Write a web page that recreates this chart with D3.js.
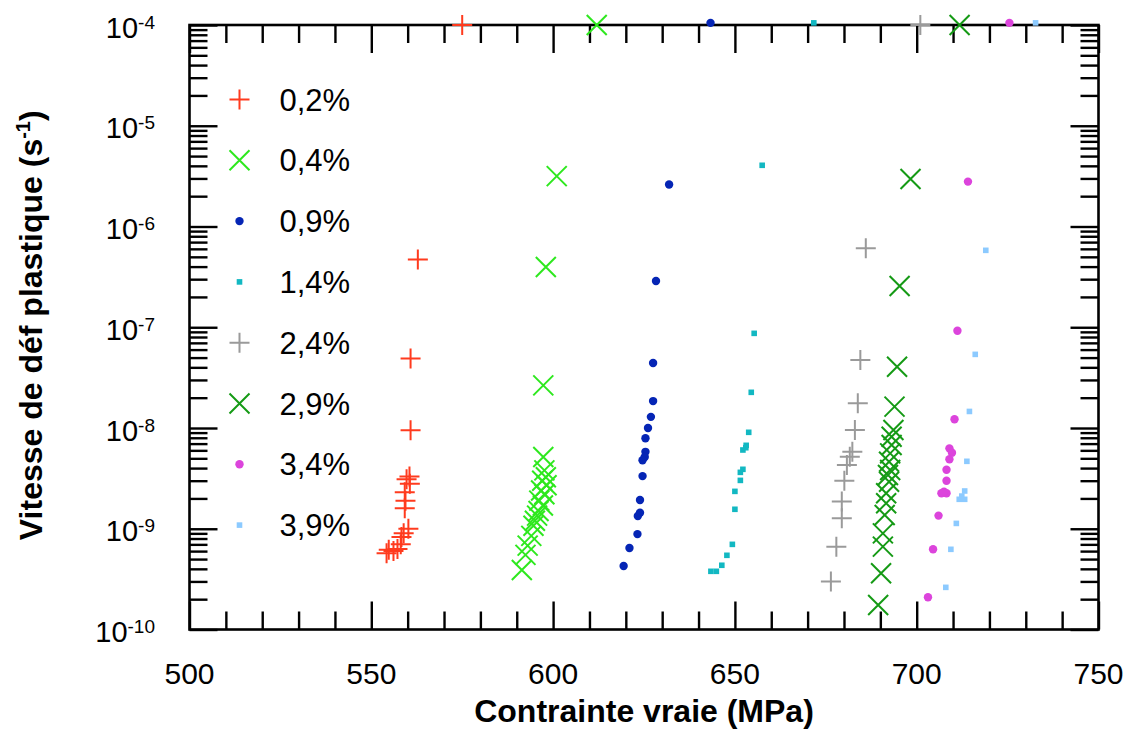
<!DOCTYPE html>
<html><head><meta charset="utf-8">
<script src="https://cdn.jsdelivr.net/npm/d3@7"></script>
<style>
body{margin:0;background:#fff}
svg{display:block}
text{font-family:"Liberation Sans",Arial,Helvetica,sans-serif;fill:#000}
</style>
</head><body>
<svg id="chart" width="1130" height="731"></svg>
<script>
// ---------- data ----------
const seriesNames = ["0,2%","0,4%","0,9%","1,4%","2,4%","2,9%","3,4%","3,9%"];
const xTickValues = [500,550,600,650,700,750];
const yTickExponents = [-4,-5,-6,-7,-8,-9,-10];

const s02 = [[575,1e-4],[562.8,4.7e-7],[560.8,4.9e-8],[560.8,9.5e-9],[560.5,3.3e-9],[559.7,3.1e-9],[560.6,2.8e-9],
  [559.2,2.3e-9],[559.4,1.9e-9],[559.2,1.6e-9],[560.2,1.0e-9],[558.9,9.0e-10],[558.3,8.3e-10],[558.1,7.0e-10],
  [557.2,6.3e-10],[556.1,6.0e-10],[554.8,6.2e-10],[554.2,5.7e-10]];
const s04 = [[612,1e-4],[601.0,3.16e-6],[598.0,3.97e-7],[597.3,2.65e-8],[597.3,5.15e-9],[597.6,3.8e-9],[598.0,3.24e-9],
  [597.0,3.0e-9],[598.2,2.7e-9],[596.7,2.4e-9],[597.6,2.2e-9],[596.2,1.9e-9],[597.2,1.7e-9],[596.0,1.5e-9],
  [595.6,1.35e-9],[595.0,1.2e-9],[594.6,1.07e-9],[594.0,8.5e-10],[593.0,6.8e-10],[592.4,5.5e-10],[591.4,3.9e-10]];
const s09 = [[643.3,1.05e-4],[631.9,2.61e-6],[628.3,2.88e-7],[627.5,4.42e-8],[627.5,1.85e-8],[626.9,1.29e-8],[626.1,1.0e-8],
  [625.4,7.9e-9],[625.4,5.8e-9],[625.2,5.15e-9],[624.6,4.78e-9],[624.6,3.33e-9],[623.9,1.93e-9],[623.9,1.44e-9],
  [623.3,1.34e-9],[623.2,8.85e-10],[621.0,6.43e-10],[619.4,4.27e-10]];
const s14 = [[671.7,1.05e-4],[657.5,4.05e-6],[655.3,8.7e-8],[654.5,2.26e-8],[653.8,9.06e-9],[653.1,6.73e-9],[653.0,6.37e-9],
  [652.2,6.05e-9],[652.2,3.89e-9],[651.5,3.63e-9],[651.5,3.02e-9],[650.0,2.35e-9],[650.0,1.56e-9],[649.3,7.0e-10],
  [647.8,5.45e-10],[646.4,4.34e-10],[644.9,3.78e-10],[643.4,3.78e-10]];
const s24 = [[701.0,1e-4],[686.0,6.07e-7],[684.5,4.73e-8],[683.8,1.76e-8],[683.0,9.55e-9],[682.3,5.82e-9],[681.6,5.19e-9],
  [680.8,4.29e-9],[680.1,3.0e-9],[679.4,1.86e-9],[679.4,1.27e-9],[677.9,6.64e-10],[676.4,2.99e-10]];
const s29 = [[711.8,1e-4],[698.3,2.96e-6],[695.3,2.57e-7],[694.6,4.06e-8],[693.9,1.63e-8],[693.6,9.55e-9],[693.1,8.2e-9],
  [693.1,6.78e-9],[692.7,5.6e-9],[692.4,4.63e-9],[692.7,3.83e-9],[692.1,3.41e-9],[692.4,2.93e-9],[691.6,2.25e-9],
  [691.6,1.79e-9],[691.2,1.37e-9],[690.7,9.0e-10],[690.7,6.64e-10],[690.2,3.61e-10],[689.4,1.75e-10]];
const s34 = [[725.5,1.05e-4],[714.1,2.79e-6],[711.2,9.24e-8],[710.4,1.22e-8],[709.0,6.28e-9],[709.7,5.69e-9],[709.0,4.89e-9],
  [708.2,3.85e-9],[708.2,3.0e-9],[708.2,2.25e-9],[706.8,2.25e-9],[707.5,2.33e-9],[706.0,1.35e-9],[704.5,6.25e-10],
  [703.1,2.09e-10]];
const s39 = [[732.7,1.05e-4],[719.0,5.8e-7],[716.1,5.38e-8],[714.5,1.46e-8],[713.8,4.67e-9],[713.2,2.37e-9],[712.4,2.11e-9],
  [711.7,1.96e-9],[713.2,1.96e-9],[710.9,1.13e-9],[709.4,6.25e-10],[708.0,2.62e-10]];

const seriesData = [s02,s04,s09,s14,s24,s29,s34,s39];
const seriesColors = ["#ff3b1e","#2ee81e","#0525b5","#12b8c2","#9a9a9a","#159a15","#dc44dc","#8ccaff"];
const seriesMarkers = ["plus","times","circle","square","plus","times","circle","square"];

// ---------- layout ----------
const svg = d3.select("#chart");
const L = 189.5, R = 1098.5, T = 25, B = 629.5;
const x = d3.scaleLinear().domain([500,750]).range([L,R]);
const y = d3.scaleLog().domain([1e-10,1e-4]).range([B,T]);

const FONT = 30;
const MAJ = 28, MIN = 18, TW = 2.4;

const xMinor = d3.range(500,751,10).filter(v => v % 50 !== 0);
const yMajor = yTickExponents.map(e => Math.pow(10,e));
const yMinor = [];
for (let e=-10; e<-4; e++) for (let m=2; m<=9; m++) yMinor.push(m*Math.pow(10,e));

function styleAxis(g){
  g.select(".domain").remove();
  g.selectAll(".tick line").attr("stroke","#000").attr("stroke-width",TW);
  g.selectAll(".tick text").remove();
}
svg.append("g").attr("transform",`translate(0,${B})`).call(d3.axisBottom(x).tickValues(xTickValues).tickSize(-MAJ)).call(styleAxis);
svg.append("g").attr("transform",`translate(0,${B})`).call(d3.axisBottom(x).tickValues(xMinor).tickSize(-MIN)).call(styleAxis);
svg.append("g").attr("transform",`translate(0,${T})`).call(d3.axisTop(x).tickValues(xTickValues).tickSize(-MAJ)).call(styleAxis);
svg.append("g").attr("transform",`translate(0,${T})`).call(d3.axisTop(x).tickValues(xMinor).tickSize(-MIN)).call(styleAxis);
svg.append("g").attr("transform",`translate(${L},0)`).call(d3.axisLeft(y).tickValues(yMajor).tickSize(-MAJ)).call(styleAxis);
svg.append("g").attr("transform",`translate(${L},0)`).call(d3.axisLeft(y).tickValues(yMinor).tickSize(-MIN)).call(styleAxis);
svg.append("g").attr("transform",`translate(${R},0)`).call(d3.axisRight(y).tickValues(yMajor).tickSize(-MAJ)).call(styleAxis);
svg.append("g").attr("transform",`translate(${R},0)`).call(d3.axisRight(y).tickValues(yMinor).tickSize(-MIN)).call(styleAxis);

svg.append("rect").attr("x",L).attr("y",T).attr("width",R-L).attr("height",B-T)
  .attr("fill","none").attr("stroke","#000").attr("stroke-width",2.6);

svg.append("g").selectAll("text").data(xTickValues).join("text")
  .attr("x",d=>x(d)).attr("y",B+54).attr("text-anchor","middle").attr("font-size",FONT).text(d=>d);

const yl = svg.append("g").selectAll("text").data(yTickExponents).join("text")
  .attr("x",155).attr("y",d=>y(Math.pow(10,d))+12.5).attr("text-anchor","end").attr("font-size",29);
yl.append("tspan").text("10");
yl.append("tspan").attr("font-size",19).attr("dy",-9).text(d=>String(d));

svg.append("text").attr("x",(L+R)/2).attr("y",722).attr("text-anchor","middle")
  .attr("font-size",32).attr("font-weight","bold").text("Contrainte vraie (MPa)");
const yt = svg.append("text").attr("transform",`translate(42,${(T+B)/2 - 2}) rotate(-90)`)
  .attr("text-anchor","middle").attr("font-size",32).attr("font-weight","bold");
yt.append("tspan").text("Vitesse de déf plastique (s");
yt.append("tspan").attr("font-size",20).attr("dy",-12).text("-1");
yt.append("tspan").attr("dy",12).text(")");

function drawMarker(sel, type, color){
  if (type==="plus"){
    sel.append("path").attr("d","M-10,0H10M0,-10V10").attr("stroke",color).attr("stroke-width",2).attr("fill","none");
  } else if (type==="times"){
    sel.append("path").attr("d","M-10,-10L10,10M-10,10L10,-10").attr("stroke",color).attr("stroke-width",2).attr("fill","none");
  } else if (type==="circle"){
    sel.append("circle").attr("r",4.2).attr("fill",color);
  } else {
    sel.append("rect").attr("x",-2.8).attr("y",-2.8).attr("width",5.6).attr("height",5.6).attr("fill",color);
  }
}
seriesData.forEach((data,i)=>{
  const g = svg.append("g");
  const pts = g.selectAll("g").data(data).join("g")
    .attr("transform",d=>`translate(${x(d[0])},${y(d[1])})`);
  drawMarker(pts, seriesMarkers[i], seriesColors[i]);
});

const legY0 = 99.5, legDY = 60.8;
seriesNames.forEach((name,i)=>{
  const g = svg.append("g").attr("transform",`translate(239.5,${legY0+i*legDY})`);
  drawMarker(g, seriesMarkers[i], seriesColors[i]);
  g.append("text").attr("x",40).attr("y",11).attr("font-size",31).text(name);
});
</script>
</body></html>
